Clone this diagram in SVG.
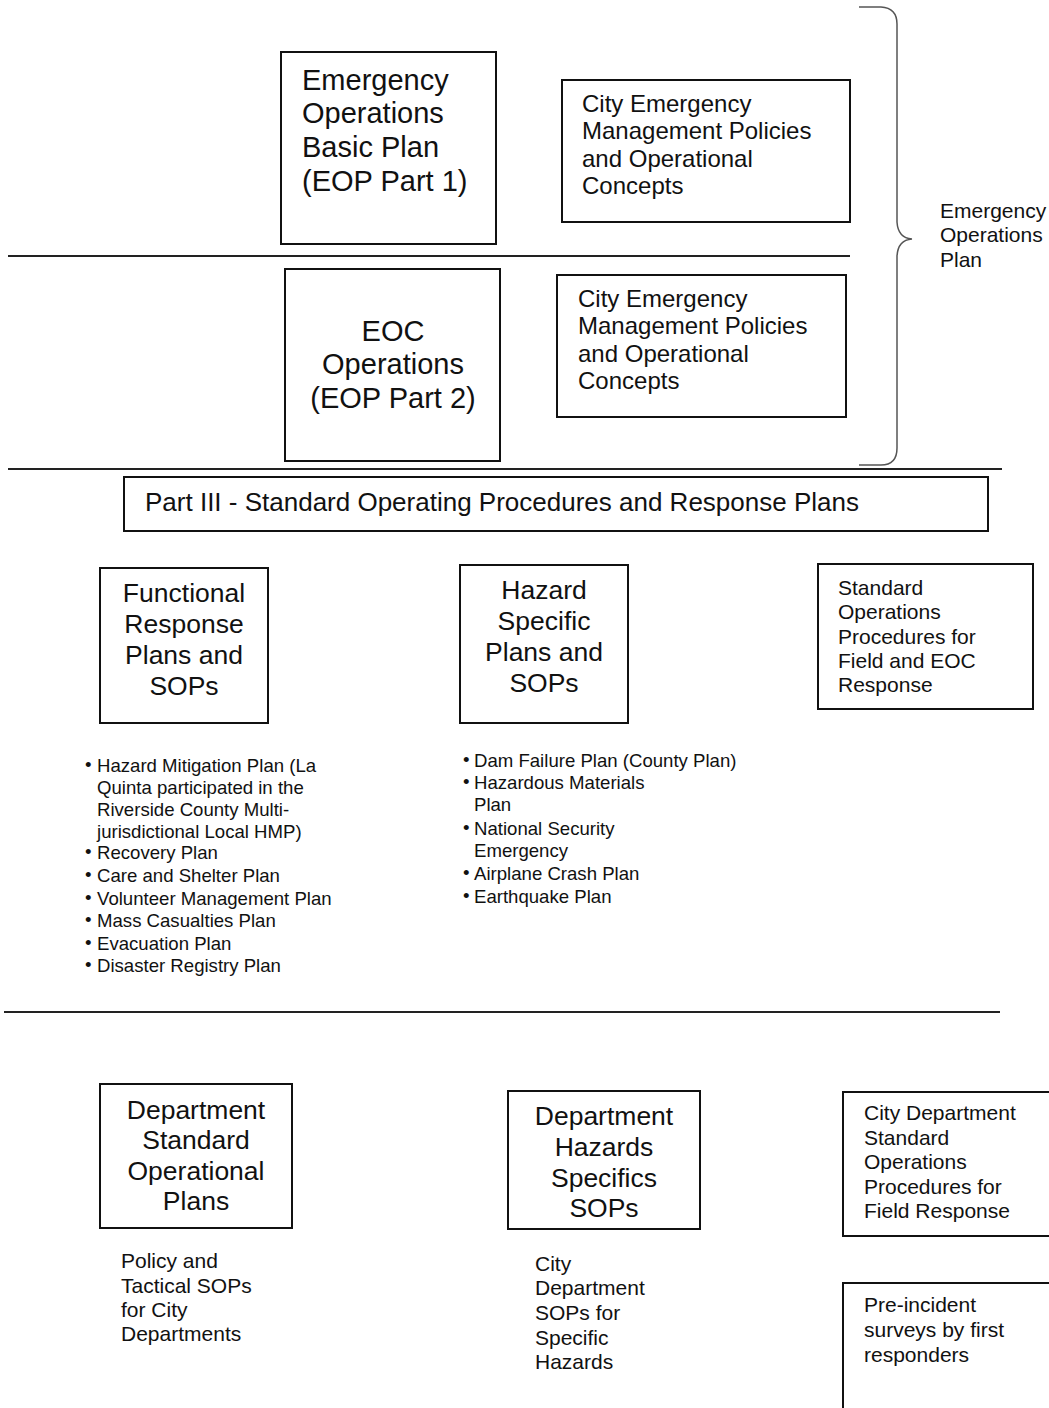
<svg xmlns="http://www.w3.org/2000/svg" width="1049" height="1408" viewBox="0 0 1049 1408">
  <style>
    text { font-family: "Liberation Sans", Arial, sans-serif; fill: #111; }
    .box { fill: #fff; stroke: #111; stroke-width: 2; }
    .rule { stroke: #222; stroke-width: 2; fill: none; }
    .brace { stroke: #555; stroke-width: 1.5; fill: none; }
    .t29 { font-size: 29px; }
    .t26 { font-size: 26.5px; }
    .t24 { font-size: 24px; }
    .t21 { font-size: 21px; }
    .t18 { font-size: 18.6px; }
    .mid { text-anchor: middle; }
    .dot { font-size: 18.6px; }
  </style>

  <rect width="1049" height="1408" fill="#fff"/>

  <!-- section rules and the brace over Parts 1 and 2 -->
  <g id="connectors">
    <line class="rule" x1="8" y1="256" x2="850" y2="256"/>
    <line class="rule" x1="8" y1="469" x2="1002" y2="469"/>
    <line class="rule" x1="4" y1="1012" x2="1000" y2="1012"/>
    <path class="brace" d="M859,7 L881,7 Q897,8 897,24 L897,222 Q898,238 912,239 Q898,240 897,256 L897,448 Q897,465 881,465 L859,465"/>
  </g>

  <g id="eop-label">
    <text class="t21" x="940" y="218">Emergency</text>
    <text class="t21" x="940" y="242">Operations</text>
    <text class="t21" x="940" y="267">Plan</text>
  </g>

  <g id="eop-part1">
    <rect class="box" x="281" y="52" width="215" height="192"/>
    <text class="t29" x="302" y="90">Emergency</text>
    <text class="t29" x="302" y="123">Operations</text>
    <text class="t29" x="302" y="157">Basic Plan</text>
    <text class="t29" x="302" y="191">(EOP Part 1)</text>
  </g>

  <g id="policies-1">
    <rect class="box" x="562" y="80" width="288" height="142"/>
    <text class="t24" x="582" y="112">City Emergency</text>
    <text class="t24" x="582" y="139">Management Policies</text>
    <text class="t24" x="582" y="167">and Operational</text>
    <text class="t24" x="582" y="194">Concepts</text>
  </g>

  <g id="eop-part2">
    <rect class="box" x="285" y="269" width="215" height="192"/>
    <text class="t29 mid" x="393" y="341">EOC</text>
    <text class="t29 mid" x="393" y="374">Operations</text>
    <text class="t29 mid" x="393" y="408">(EOP Part 2)</text>
  </g>

  <g id="policies-2">
    <rect class="box" x="557" y="275" width="289" height="142"/>
    <text class="t24" x="578" y="307">City Emergency</text>
    <text class="t24" x="578" y="334">Management Policies</text>
    <text class="t24" x="578" y="362">and Operational</text>
    <text class="t24" x="578" y="389">Concepts</text>
  </g>

  <g id="part3">
    <rect class="box" x="124" y="477" width="864" height="54"/>
    <text x="145" y="511" style="font-size:26px">Part III - Standard Operating Procedures and Response Plans</text>
  </g>

  <g id="functional">
    <rect class="box" x="100" y="568" width="168" height="155"/>
    <text class="t26 mid" x="184" y="602">Functional</text>
    <text class="t26 mid" x="184" y="633">Response</text>
    <text class="t26 mid" x="184" y="664">Plans and</text>
    <text class="t26 mid" x="184" y="695">SOPs</text>
  </g>

  <g id="hazard-specific">
    <rect class="box" x="460" y="565" width="168" height="158"/>
    <text class="t26 mid" x="544" y="599">Hazard</text>
    <text class="t26 mid" x="544" y="630">Specific</text>
    <text class="t26 mid" x="544" y="661">Plans and</text>
    <text class="t26 mid" x="544" y="692">SOPs</text>
  </g>

  <g id="standard-ops">
    <rect class="box" x="818" y="564" width="215" height="145"/>
    <text class="t21" x="838" y="595">Standard</text>
    <text class="t21" x="838" y="619">Operations</text>
    <text class="t21" x="838" y="644">Procedures for</text>
    <text class="t21" x="838" y="668">Field and EOC</text>
    <text class="t21" x="838" y="692">Response</text>
  </g>

  <g id="functional-list">
    <text class="dot" x="85" y="771">•</text>
    <text class="t18" x="97" y="772">Hazard Mitigation Plan (La</text>
    <text class="t18" x="97" y="794">Quinta participated in the</text>
    <text class="t18" x="97" y="816">Riverside County Multi-</text>
    <text class="t18" x="97" y="838">jurisdictional Local HMP)</text>
    <text class="dot" x="85" y="858">•</text>
    <text class="t18" x="97" y="859">Recovery Plan</text>
    <text class="dot" x="85" y="881">•</text>
    <text class="t18" x="97" y="882">Care and Shelter Plan</text>
    <text class="dot" x="85" y="904">•</text>
    <text class="t18" x="97" y="905">Volunteer Management Plan</text>
    <text class="dot" x="85" y="926">•</text>
    <text class="t18" x="97" y="927">Mass Casualties Plan</text>
    <text class="dot" x="85" y="949">•</text>
    <text class="t18" x="97" y="950">Evacuation Plan</text>
    <text class="dot" x="85" y="971">•</text>
    <text class="t18" x="97" y="972">Disaster Registry Plan</text>
  </g>

  <g id="hazard-list">
    <text class="dot" x="463" y="766">•</text>
    <text class="t18" x="474" y="767">Dam Failure Plan (County Plan)</text>
    <text class="dot" x="463" y="788">•</text>
    <text class="t18" x="474" y="789">Hazardous Materials</text>
    <text class="t18" x="474" y="811">Plan</text>
    <text class="dot" x="463" y="834">•</text>
    <text class="t18" x="474" y="835">National Security</text>
    <text class="t18" x="474" y="857">Emergency</text>
    <text class="dot" x="463" y="879">•</text>
    <text class="t18" x="474" y="880">Airplane Crash Plan</text>
    <text class="dot" x="463" y="902">•</text>
    <text class="t18" x="474" y="903">Earthquake Plan</text>
  </g>

  <g id="dept-standard">
    <rect class="box" x="100" y="1084" width="192" height="144"/>
    <text class="t26 mid" x="196" y="1119">Department</text>
    <text class="t26 mid" x="196" y="1149">Standard</text>
    <text class="t26 mid" x="196" y="1180">Operational</text>
    <text class="t26 mid" x="196" y="1210">Plans</text>
  </g>

  <g id="dept-standard-note">
    <text class="t21" x="121" y="1268">Policy and</text>
    <text class="t21" x="121" y="1293">Tactical SOPs</text>
    <text class="t21" x="121" y="1317">for City</text>
    <text class="t21" x="121" y="1341">Departments</text>
  </g>

  <g id="dept-hazards">
    <rect class="box" x="508" y="1091" width="192" height="138"/>
    <text class="t26 mid" x="604" y="1125">Department</text>
    <text class="t26 mid" x="604" y="1156">Hazards</text>
    <text class="t26 mid" x="604" y="1187">Specifics</text>
    <text class="t26 mid" x="604" y="1217">SOPs</text>
  </g>

  <g id="dept-hazards-note">
    <text class="t21" x="535" y="1271">City</text>
    <text class="t21" x="535" y="1295">Department</text>
    <text class="t21" x="535" y="1320">SOPs for</text>
    <text class="t21" x="535" y="1345">Specific</text>
    <text class="t21" x="535" y="1369">Hazards</text>
  </g>

  <g id="field-response">
    <rect class="box" x="843" y="1092" width="220" height="144"/>
    <text class="t21" x="864" y="1120">City Department</text>
    <text class="t21" x="864" y="1145">Standard</text>
    <text class="t21" x="864" y="1169">Operations</text>
    <text class="t21" x="864" y="1194">Procedures for</text>
    <text class="t21" x="864" y="1218">Field Response</text>
  </g>

  <g id="pre-incident">
    <rect class="box" x="843" y="1283" width="220" height="140"/>
    <text class="t21" x="864" y="1312">Pre-incident</text>
    <text class="t21" x="864" y="1337">surveys by first</text>
    <text class="t21" x="864" y="1362">responders</text>
  </g>
</svg>
